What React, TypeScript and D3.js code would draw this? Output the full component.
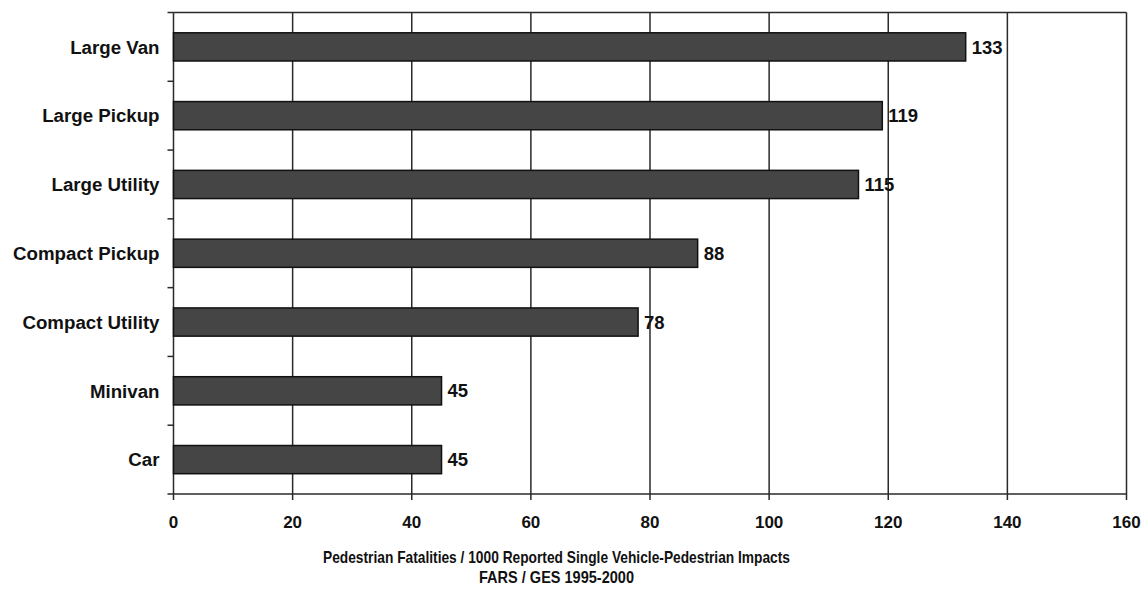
import React from "react";
import * as d3 from "d3";

const categories = ["Large Van", "Large Pickup", "Large Utility", "Compact Pickup", "Compact Utility", "Minivan", "Car"];
const values = [133, 119, 115, 88, 78, 45, 45];
const xTicks = [0, 20, 40, 60, 80, 100, 120, 140, 160];
const titleLines = ["Pedestrian Fatalities / 1000 Reported Single Vehicle-Pedestrian Impacts", "FARS / GES 1995-2000"];
const titleWidths = [467, 155];

const W = 1148, H = 589;
const left = 173.5, right = 1126.5, top = 12.5, bottom = 494;

export default function App() {
  const x = d3.scaleLinear().domain([0, 160]).range([left, right]);
  const y = d3.scaleBand().domain(categories).range([top, bottom]).paddingInner(0.59).paddingOuter(0.295);
  const step = y.step();
  const font = "'Liberation Sans', Arial, Helvetica, sans-serif";
  return (
    <svg width={W} height={H} style={{ position: "absolute", left: 0, top: 0 }} fontFamily={font}>
      <rect x={0} y={0} width={W} height={H} fill="#fff" />
      {xTicks.map((t) => (
        <line key={"g" + t} x1={x(t)} x2={x(t)} y1={top} y2={bottom + 6} stroke="#2a2a2a" strokeWidth={1.5} />
      ))}
      <line x1={left} x2={right} y1={top} y2={top} stroke="#2a2a2a" strokeWidth={1.5} />
      <line x1={left} x2={right} y1={bottom} y2={bottom} stroke="#2a2a2a" strokeWidth={1.5} />
      {d3.range(categories.length + 1).map((i) => (
        <line key={"yt" + i} x1={left - 6} x2={left} y1={top + i * step} y2={top + i * step} stroke="#2a2a2a" strokeWidth={1.5} />
      ))}
      {categories.map((c, i) => (
        <g key={c}>
          <rect x={x(0)} y={y(c)!} width={x(values[i]) - x(0)} height={y.bandwidth()} fill="#454545" stroke="#111" strokeWidth={1.5} />
          <text x={x(values[i]) + 6} y={y(c)! + y.bandwidth() / 2} dy="0.36em" fontSize={18.5} fontWeight="bold" fill="#111">{values[i]}</text>
          <text x={left - 14} y={y(c)! + y.bandwidth() / 2} dy="0.36em" textAnchor="end" fontSize={18.7} fontWeight="bold" fill="#111">{c}</text>
        </g>
      ))}
      {xTicks.map((t) => (
        <text key={"xl" + t} x={x(t)} y={522} dy="0.36em" textAnchor="middle" fontSize={17} fontWeight="bold" fill="#111">{t}</text>
      ))}
      {titleLines.map((l, i) => (
        <text key={l} x={556.5} y={557 + i * 20} dy="0.36em" textAnchor="middle" fontSize={16.5} fontWeight="bold" fill="#111"
          textLength={titleWidths[i]} lengthAdjust="spacingAndGlyphs">{l}</text>
      ))}
    </svg>
  );
}
